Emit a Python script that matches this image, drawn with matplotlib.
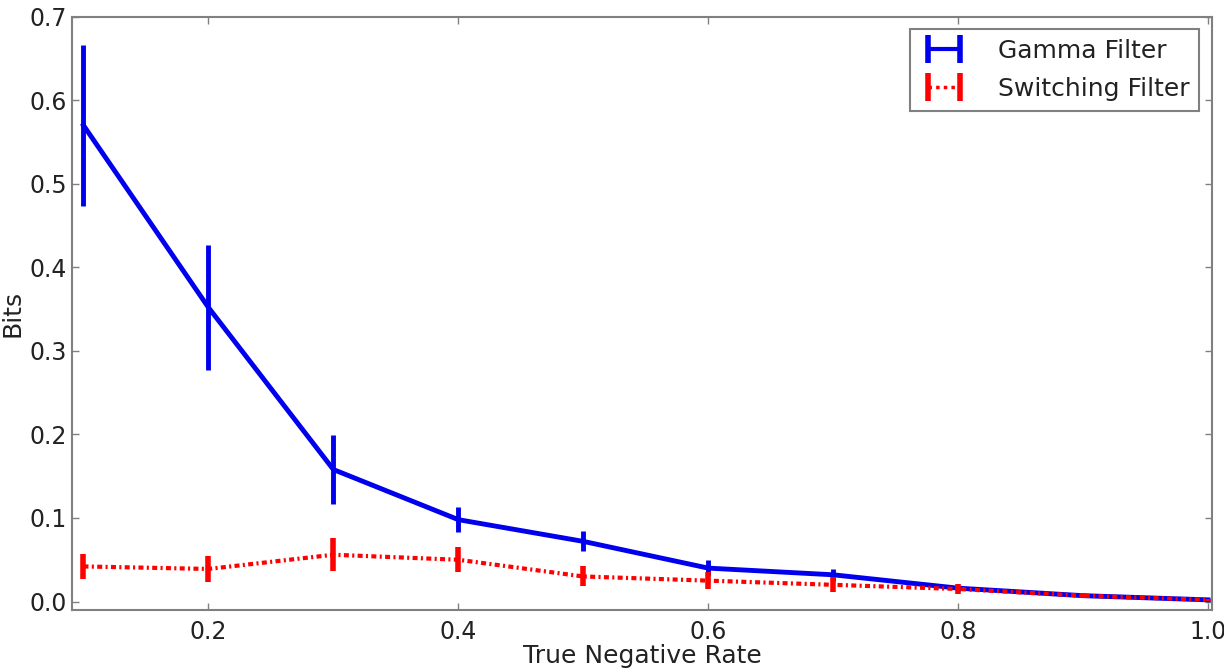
import numpy as np
import matplotlib.pyplot as plt
from matplotlib.lines import Line2D

# Global plot parameters
plt.rcParams['font.size'] = 17
plt.rcParams['axes.linewidth'] = 1.5
plt.rcParams['xtick.direction'] = 'in'
plt.rcParams['ytick.direction'] = 'in'
plt.rcParams['xtick.top'] = True
plt.rcParams['ytick.right'] = True

# data
tnr = [0.1, 0.2, 0.3, 0.4, 0.5, 0.6, 0.7, 0.8, 0.9, 1.0]
gamma = [0.570, 0.352, 0.158, 0.098, 0.072, 0.040, 0.032, 0.016, 0.007, 0.002]
gamma_err = [0.096, 0.075, 0.041, 0.015, 0.012, 0.010, 0.007, 0.003, 0.002, 0.001]
switching = [0.042, 0.039, 0.056, 0.050, 0.030, 0.025, 0.020, 0.015, 0.007, 0.002]
switching_err = [0.015, 0.016, 0.020, 0.015, 0.012, 0.010, 0.009, 0.006, 0.003, 0.001]

fig = plt.figure(figsize=(12.24, 6.68), dpi=100)
ax = fig.add_axes([0.059, 0.087, 0.931, 0.888])

ax.errorbar(tnr, gamma, yerr=gamma_err, color='#0000ee', lw=3.5, elinewidth=3.5,
            capsize=0, zorder=2)
ax.errorbar(tnr, switching, yerr=switching_err, color='#ff0000', lw=3, elinewidth=4,
            capsize=0, dashes=(1.2, 0.8, 0.5, 0.8), zorder=3)

ax.set_xlim(0.091, 1.003)
ax.set_ylim(-0.01, 0.7)
ax.set_xticks([0.2, 0.4, 0.6, 0.8, 1.0])
ax.set_yticks(np.arange(0, 0.71, 0.1))
ax.set_xticklabels(['0.2', '0.4', '0.6', '0.8', '1.0'])
ax.set_yticklabels(['%.1f' % v for v in np.arange(0, 0.71, 0.1)])
for s in ax.spines.values():
    s.set_color('#808080')
ax.tick_params(colors='#808080', labelcolor='#222222', length=5, width=1, pad=4,
               labelsize=17)
ax.tick_params(axis='x', pad=7)

ax.set_xlabel('True Negative Rate', color='#222222', fontsize=18, labelpad=0)
ax.set_ylabel('Bits', color='#222222', fontsize=18, labelpad=3)

handles = [
    Line2D([], [], color='#0000ee', lw=3, marker='|', markersize=20, mew=4),
    Line2D([], [], color='#ff0000', lw=2.5, linestyle=(0, (1, 1.2)), marker='|',
           markersize=20, mew=4),
]
leg = ax.legend(handles, ['Gamma Filter', 'Switching Filter'], loc='upper right',
                numpoints=2, fancybox=False, shadow=False, fontsize=18,
                handlelength=1.9, handletextpad=1.2, borderpad=0.4,
                labelspacing=0.55, borderaxespad=0.5,
                framealpha=1, edgecolor='#808080')
leg.get_frame().set_linewidth(1.5)
for t in leg.get_texts():
    t.set_color('#222222')

plt.savefig('out.png', dpi=100)
